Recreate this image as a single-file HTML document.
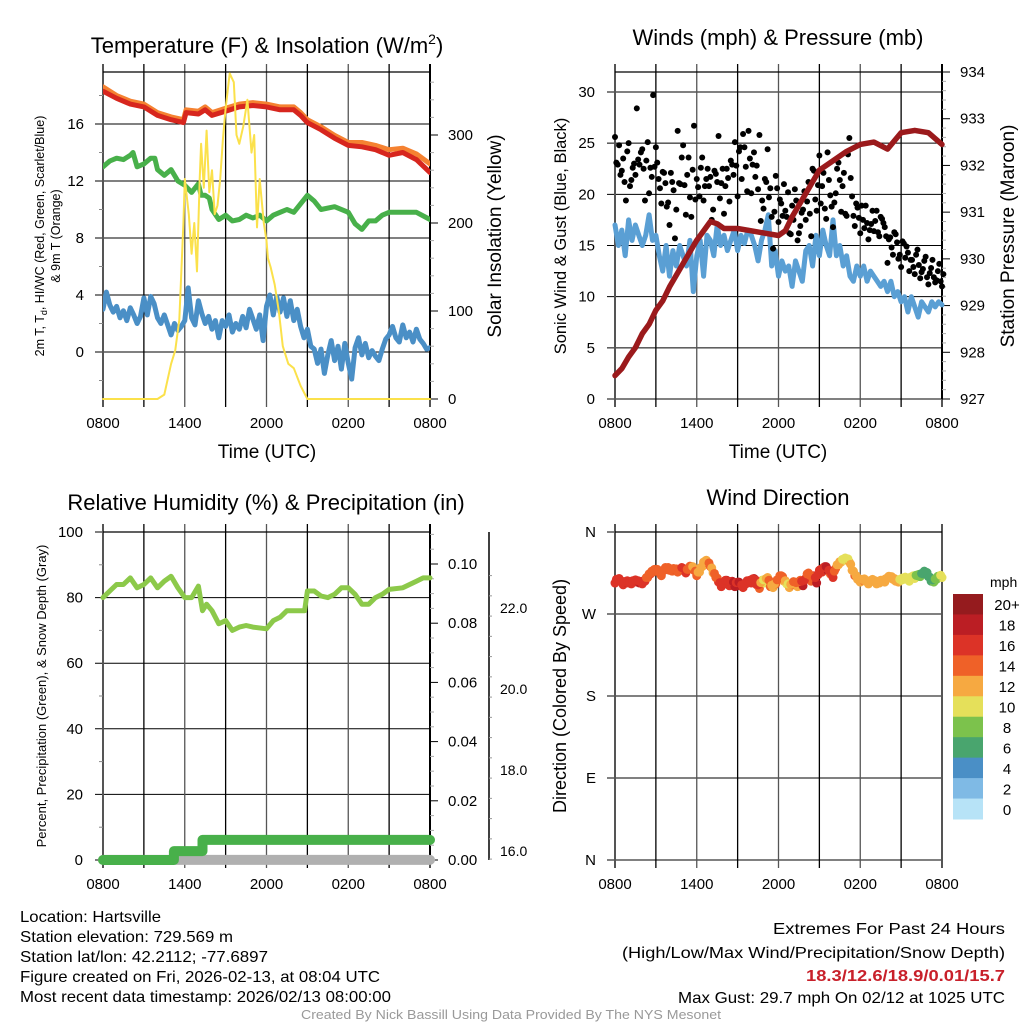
<!DOCTYPE html>
<html><head><meta charset="utf-8"><style>
html,body{margin:0;padding:0;background:#fff;}
svg{display:block;font-family:"Liberation Sans",sans-serif;}
</style></head><body>
<svg id="s" width="1024" height="1024" viewBox="0 0 1024 1024" xmlns="http://www.w3.org/2000/svg">
<rect width="1024" height="1024" fill="#fff"/>
<g id="p1"></g>
<g id="p2"></g>
<g id="p3"></g>
<g id="p4"></g>
<g font-size="16" fill="#000">
<text x="20" y="922" textLength="141" lengthAdjust="spacingAndGlyphs">Location: Hartsville</text>
<text x="20" y="942" textLength="213" lengthAdjust="spacingAndGlyphs">Station elevation: 729.569 m</text>
<text x="20" y="962" textLength="248" lengthAdjust="spacingAndGlyphs">Station lat/lon: 42.2112; -77.6897</text>
<text x="20" y="982" textLength="360" lengthAdjust="spacingAndGlyphs">Figure created on Fri, 2026-02-13, at 08:04 UTC</text>
<text x="20" y="1002" textLength="371" lengthAdjust="spacingAndGlyphs">Most recent data timestamp: 2026/02/13 08:00:00</text>
</g>
<g font-size="16">
<text x="773" y="934" textLength="232" lengthAdjust="spacingAndGlyphs">Extremes For Past 24 Hours</text>
<text x="622" y="958" textLength="383" lengthAdjust="spacingAndGlyphs">(High/Low/Max Wind/Precipitation/Snow Depth)</text>
<text x="806" y="981" textLength="199" lengthAdjust="spacingAndGlyphs" fill="#c8202a" font-weight="bold">18.3/12.6/18.9/0.01/15.7</text>
<text x="678" y="1003" textLength="327" lengthAdjust="spacingAndGlyphs">Max Gust: 29.7 mph On 02/12 at 1025 UTC</text>
</g>
<text x="301" y="1019" font-size="13" textLength="420" lengthAdjust="spacingAndGlyphs" fill="#999">Created By Nick Bassill Using Data Provided By The NYS Mesonet</text>
</svg>
<script>
// ---------- data ----------
const timeTicks = ["0800","1400","2000","0200","0800"];
const redT = [[0,18.3],[1,17.8],[2,17.4],[3,17.2],[4,16.6],[5,16.3],[5.9,16.1],[6.1,16.8],[7,16.7],[7.5,17.0],[8,16.6],[9,16.9],[10,17.2],[11,17.3],[12,17.2],[13,17.0],[14,17.0],[14.5,16.6],[15,16.1],[16,15.6],[17,15.0],[18,14.5],[19,14.4],[20,14.2],[21,13.8],[22,14.0],[23,13.5],[24,12.6]];
const orangeT = [[0,18.6],[1,18.0],[2,17.6],[3,17.4],[4,16.8],[5,16.5],[5.9,16.3],[6.1,17.0],[7,16.9],[7.5,17.2],[8,16.8],[9,17.1],[10,17.4],[11,17.5],[12,17.4],[13,17.2],[14,17.2],[14.5,16.8],[15,16.3],[16,15.8],[17,15.2],[18,14.7],[19,14.7],[20,14.5],[21,14.2],[22,14.3],[23,13.9],[24,13.2]];
const dewT = [[0,13.0],[0.5,13.4],[1,13.6],[1.5,13.5],[2,13.8],[2.2,14.0],[2.5,13.0],[3,13.2],[3.5,13.6],[3.8,13.6],[4,12.8],[4.5,12.4],[5,12.8],[5.5,12.0],[6,11.7],[6.5,11.2],[7,11.8],[7.2,11.0],[7.5,11.0],[7.8,10.8],[8,10.0],[8.5,9.3],[9,9.6],[9.5,9.2],[10,9.3],[10.5,9.6],[11,9.4],[11.5,9.6],[12,9.2],[12.5,9.6],[13,9.8],[13.5,10.0],[14,9.8],[15,11.0],[15.5,10.6],[16,10.0],[17,10.2],[18,9.8],[18.5,9.0],[19,8.6],[19.5,9.2],[20,9.2],[20.5,9.6],[21,9.8],[22,9.8],[23,9.8],[24,9.3]];
const wcStep = 0.25;
const wcVals = [3.0,4.2,3.3,2.8, 3.2,2.4,2.9,2.2, 3.1,2.6,2.0,2.5, 3.8,2.6,3.9,3.4, 2.4,2.0,2.6,1.9, 1.2,2.0,1.5,1.8, 2.2,4.5,2.4,1.9, 3.6,2.7,2.0,2.5, 1.6,2.2,1.0,2.2, 1.8,2.6,1.4,2.0, 1.6,2.5,1.7,3.0, 2.3,1.6,2.6,0.8, 3.2,4.0,2.6,3.9, 2.8,3.8,2.5,3.6, 2.2,3.0,1.8,1.0, 1.6,0.4,0.2,-0.8, 0.2,-1.5,-0.2,0.8, -0.6,0.4,-1.2,0.6, -0.8,-1.9,0.3,1.0, -0.2,0.6,-0.4,0.1, -0.3,-0.6,0.2,0.9, 1.2,1.8,1.0,0.7, 1.9,1.0,1.4,0.7, 1.6,0.9,0.6,0.2, 0.3];
const solar = [[0,0],[4,0],[4.5,5],[5,40],[5.3,55],[5.6,90],[5.9,200],[6.0,250],[6.3,210],[6.5,165],[6.7,200],[6.9,145],[7.1,250],[7.2,290],[7.4,240],[7.6,305],[7.8,235],[8,260],[8.2,210],[8.4,220],[8.6,250],[8.8,295],[9.0,330],[9.3,370],[9.6,360],[9.8,300],[10.0,290],[10.3,310],[10.6,340],[10.9,280],[11.1,300],[11.3,195],[11.5,250],[11.8,200],[12.0,180],[12.1,160],[12.3,150],[12.6,130],[12.9,100],[13.2,60],[13.6,40],[14,35],[14.5,15],[15,0],[24,0]];
const windStep = 0.25;
const windVals = [17,15,16.5,14, 17.5,15.5,17,16, 15,16,18,15.5, 16,14,12.5,15, 12,14.5,13,15, 14,13,15.5,10.5, 14,15.5,12,16, 15.5,14,17,15, 16,14.5,15.5,16.5, 14.5,16,15.2,16.5, 16,15,13.5,15.5, 16.5,18,13,14.5, 12,13.5,12.5,13, 11,13.5,12.5,11.5, 14.5,15,13,16, 14,16.5,15,14, 17.5,14,15,13, 14,12,11.5,13, 12,13,11.5,12.5, 12,11.5,11,11.5, 10.5,11.5,10,10.5, 9.5,10,8.5,10, 9,8,9.5,9, 8.5,9.5,9,9.5, 9.2];
const gustStep = 0.2;
const gustVals = [25.6,22.9,21.9,23.5,19.4,25,21.4,23,28.4,22.9, 24.4,19.4,25.1,22.6,29.7,24.6,21.5,19.1,22.1,18.8, 17,21.2,15.7,26.2,21,24.8,18,23.6,17.8,26.7, 21.5,19.8,23.6,20.8,22.5,21.7,18.5,22,25.7,21.1, 18.1,22.5,19.3,22.9,25.1,19.8,24.6,25.9,22.7,26.2, 20.1,24.1,22.8,25.8,19.4,21.5,24.4,20.6,14.7,21.8, 17.3,19.1,21,17.8,16.2,18.9,20.5,15.5,16.9,18.5, 17.5,21.2,15.9,22.3,18.4,23.8,20.8,18.6,24.1,19.9, 16.8,20.1,23.1,18.3,22.1,17.9,25.5,19.8,16.9,18.7, 16.2,17.5,18.9,15.6,17.1,16.4,18.4,15.9,17.6,16.8, 13.3,15.8,14.1,16.1,13.7,12.9,15.2,14.9,12.5,13.6, 12.2,14.6,11.8,12.7,13.9,11.2,12.8,11.9,11.6,13.2, 11];
const gust2Vals = [23.1,24.8,22.3,21.2,24.2,20.8,22.6,21.9,23.4,24.1, 22.5,23.3,20.1,21.7,22.7,23.1,20.6,22.2,21.1,19.2, 22.1,20.4,18.5,21.1,23.6,20.9,21.9,19.7,22.4,19.5, 20.7,22.6,19.4,21.5,20.8,17.5,22.3,21.2,19.6,22.5, 20.8,21.6,23.3,21.9,22.8,24.2,21.5,24.6,20.3,23.5, 22.9,21.7,20.5,17.4,18.6,21.2,19.7,17.8,18.3,20.6, 19.5,17.9,18.4,20.2,16.1,17.5,19.4,16.2,18.2,20.3, 19.3,18.1,22.5,19.5,20.9,19.1,22.1,17.6,21.4,18.8, 19.2,22.5,21.4,20.8,18.1,23.9,21.6,17.9,19.1,17.7, 18.9,16.7,17.2,16.5,18.4,17.4,16.3,17.8,17.2,15.9, 15.6,14.8,16.3,15.3,14.1,15.4,13.8,14.3,13.6,12.9, 14.1,13.1,12.4,13.5,11.9,12.3,13.6,11.4,12.5,11.5, 12.2];
const pressure = [[0,927.5],[0.5,927.65],[1,927.9],[1.5,928.1],[2,928.4],[2.5,928.6],[3,928.9],[3.5,929.1],[4,929.4],[4.5,929.65],[5,929.9],[5.5,930.15],[6,930.4],[7,930.8],[7.5,930.75],[8,930.65],[9,930.65],[10,930.6],[11,930.55],[12,930.5],[12.5,930.6],[13,930.9],[14,931.4],[15,931.9],[16,932.1],[17,932.3],[18,932.45],[19,932.5],[20,932.35],[21,932.7],[22,932.75],[23,932.7],[24,932.45]];
const rh = [[0,80],[0.5,82],[1,84],[1.5,84],[2,86],[2.5,83],[3,84],[3.5,86],[4,83],[4.5,85],[5,86.5],[5.5,83],[6,80],[6.5,80],[7,83.5],[7.3,76],[7.6,78],[8,76],[8.5,72],[9,73],[9.5,70],[10,71],[10.5,71.5],[11,71],[12,70.5],[12.5,73],[13,74],[13.5,76],[14,76],[14.8,76],[15,82],[15.5,82],[16,80.5],[16.5,80],[17,81],[17.5,83],[18,83],[18.5,81],[19,78],[19.5,78],[20,80],[20.5,81],[21,82.5],[22,83],[23,85],[23.5,86],[24,86]];
const precip = [[0,0],[5.2,0],[5.2,0.003],[7.3,0.003],[7.3,0.0068],[24,0.0068]];
const snow = [[0,15.7],[24,15.7]];
const dirStep = 0.2;
const dirVals = [304,308,306,302,305,304,303,306,305,304, 303,306,310,314,316,318,316,312,318,320, 318,317,319,316,318,320,315,319,322,318, 312,316,322,328,326,322,315,310,305,300, 303,307,301,306,300,305,301,299,303,306, 304,309,302,298,307,304,310,300,299,303, 308,312,306,303,299,302,305,300,307,301, 309,315,306,312,304,318,316,322,318,314, 310,320,324,327,329,330,327,318,312,308, 305,307,306,303,306,306,303,304,306,305, 309,310,308,306,305,307,308,309,306,311, 309,312,311,314,316,311,306,305,308,311, 310];
const spdVals = [17,18,16,17,18,16,17,16,17,18, 17,16,15,16,14,15,14,15,16,14, 15,14,16,15,15,17,16,15,13,14, 14,12,13,11,14,14,13,15,16,17, 17,18,16,19,18,17,19,16,17,18, 16,18,17,15,12,11,13,15,12,14, 14,15,13,11,12,14,15,13,15,18, 17,14,15,16,18,17,16,19,18,15, 17,14,13,12,11,11,12,13,14,12, 13,14,13,13,12,13,12,12,13,12, 12,13,12,13,12,11,10,11,10,10, 10,9,8,7,8,7,7,8,9,10, 11];
const cbLabels = ["20+","18","16","14","12","10","8","6","4","2","0"];
const cbColors = ["#951b1e","#bb1e24","#dc3327","#ef6128","#f6a941","#e5e05a","#7cc24c","#49a56e","#4a8fc6","#7fbae5","#b7e3f7"];

// ---------- helpers ----------
const NS="http://www.w3.org/2000/svg";
function mk(parent,tag,attrs,txt){const e=document.createElementNS(NS,tag);for(const k in attrs)e.setAttribute(k,attrs[k]);if(txt!==undefined)e.textContent=txt;parent.appendChild(e);return e;}
function scale(d0,d1,r0,r1){return v=>r0+(v-d0)/(d1-d0)*(r1-r0);}
function pathD(pts,xf,yf){return pts.map((p,i)=>(i?"L":"M")+xf(p[0]).toFixed(1)+" "+yf(p[1]).toFixed(1)).join(" ");}
function stepPts(vals,step){return vals.map((v,i)=>[i*step,v]);}
const L1=103,R1=430,L2=615,R2=942,T1=72,B1=399,T3=532,B3=860;

function frame(g,L,R,T,B,yTicks,yf,ylabels,lblOff){
  const x=scale(0,24,L,R);
  yTicks.forEach((v,i)=>{const y=yf(v);
    const ln=mk(g,"line",{x1:L-8,x2:R,y1:y,y2:y,stroke:"#000","stroke-width":1});
    
    
    const t=mk(g,"text",{x:L-(lblOff||19),y:y+5,"font-size":15,"text-anchor":"end"},ylabels[i]);
    
    
  });
  for(let h=0;h<=24;h+=3){const xx=x(h);
    const ln=mk(g,"line",{x1:xx,x2:xx,y1:T-8,y2:B+8,stroke:(h%6==3)?"#000":"#555","stroke-width":(h==0||h==24)?2:1.3});
    
    
  }
  timeTicks.forEach((lab,i)=>{
    const t=mk(g,"text",{x:x(i*6),y:B+29,"font-size":15,"text-anchor":"middle"},lab);
    
    
  });
  mk(g,"line",{x1:L,x2:R,y1:T,y2:T,stroke:"#000","stroke-width":1.3});
  return x;
}
function line(g,pts,xf,yf,color,w,name){
  const p=mk(g,"path",{d:pathD(pts,xf,yf),fill:"none",stroke:color,"stroke-width":w,"stroke-linejoin":"round","stroke-linecap":"round"});
  
  
  return p;
}
function rotText(g,x,y,size,txt,name){
  const t=mk(g,"text",{x:0,y:0,"font-size":size,"text-anchor":"middle",transform:`translate(${x},${y}) rotate(-90)`},txt);
  
  
  return t;
}

// ---------- panel 1 ----------
(function(){
  const g=document.getElementById("p1");
  const y=scale(0,16,352,124);
  const ys=scale(0,300,399,135);
  const clip=mk(g,"clipPath",{id:"c1"});mk(clip,"rect",{x:L1,y:T1,width:R1-L1,height:B1-T1});
  const x=frame(g,L1,R1,T1,B1,[0,4,8,12,16],y,["0","4","8","12","16"]);
  [-2,2,6,10,14,18].forEach(v=>mk(g,"line",{x1:L1-4,x2:L1,y1:y(v),y2:y(v),stroke:"#888"}));
  mk(g,"line",{x1:R1,x2:R1,y1:T1-8,y2:B1,stroke:"#000","stroke-width":2});
  for(let v=0;v<=360;v+=20){mk(g,"line",{x1:R1,x2:R1+(v%100==0?8:4),y1:ys(v),y2:ys(v),stroke:v%100==0?"#000":"#aaa"});}
  [0,100,200,300].forEach(v=>{const t=mk(g,"text",{x:R1+18,y:ys(v)+5,"font-size":15},String(v));
    
    });
  const d=mk(g,"g",{"clip-path":"url(#c1)"});
  line(d,stepPts(wcVals,wcStep),x,y,"#4a8fc6",5,"windchill-line");
  line(d,dewT,x,y,"#48b04a",5,"dewpoint-line");
  line(d,orangeT,x,y,"#f58231",5,"temp-9m-line");
  line(d,redT,x,y,"#d7261e",5,"temp-2m-line");
  line(g,solar,x,ys,"#fbe14b",2,"solar-line");
  const t=mk(g,"text",{x:267,y:53,"font-size":22,"text-anchor":"middle"});
  t.innerHTML='Temperature (F) &amp; Insolation (W/m<tspan dy="-9" font-size="14">2</tspan><tspan dy="9">)</tspan>';
  
  
  const xt=mk(g,"text",{x:267,y:458,"font-size":19,"text-anchor":"middle"},"Time (UTC)");
  
  
  const yl=mk(g,"text",{"font-size":12.5,"text-anchor":"middle",transform:"translate(44,236) rotate(-90)"});
  yl.innerHTML='2m T, T<tspan dy="3" font-size="9">d</tspan><tspan dy="-3">, HI/WC (Red, Green, Scarlet/Blue)</tspan>';
  
  
  rotText(g,60,236,12.5,"& 9m T (Orange)","y-axis-title-line2");
  rotText(g,501,236,19,"Solar Insolation (Yellow)","right-axis-title");
})();

// ---------- panel 2 ----------
(function(){
  const g=document.getElementById("p2");
  const y=scale(0,30,399,92);
  const yp=scale(927,934,399,72);
  const x=frame(g,L2,R2,T1,B1,[0,5,10,15,20,25,30],y,["0","5","10","15","20","25","30"],20);
  mk(g,"line",{x1:R2,x2:R2,y1:T1-8,y2:B1,stroke:"#000","stroke-width":2});
  for(let v=927;v<=934.001;v+=0.2){const major=Math.abs(v-Math.round(v))<0.01;mk(g,"line",{x1:R2,x2:R2+(major?8:4),y1:yp(v),y2:yp(v),stroke:major?"#000":"#aaa"});}
  for(let v=927;v<=934;v++){const t=mk(g,"text",{x:R2+18,y:yp(v)+5,"font-size":15},String(v));
    
    }
  line(g,stepPts(windVals,windStep),x,y,"#5a9fd4",5,"sonic-wind-line");
  gustVals.forEach((v,i)=>{const c=mk(g,"circle",{cx:x(i*gustStep),cy:y(v),r:3,fill:"#000"});
    
    });
  gust2Vals.forEach((v,i)=>{const c=mk(g,"circle",{cx:x(i*gustStep+0.1),cy:y(v),r:3,fill:"#000"});
    
    });
  line(g,pressure,x,yp,"#9b1a1c",5.5,"pressure-line");
  const t=mk(g,"text",{x:778,y:45,"font-size":22,"text-anchor":"middle"},"Winds (mph) & Pressure (mb)");
  
  
  const xt=mk(g,"text",{x:778,y:458,"font-size":19,"text-anchor":"middle"},"Time (UTC)");
  
  
  rotText(g,566,236,16.5,"Sonic Wind & Gust (Blue, Black)","y-axis-title");
  rotText(g,1014,236,19,"Station Pressure (Maroon)","right-axis-title");
})();

// ---------- panel 3 ----------
(function(){
  const g=document.getElementById("p3");
  const y=scale(0,100,B3,T3);
  const yp=scale(0,0.1,860,564);
  const ysn=scale(16,22,851,608);
  const x=frame(g,L1,R1,T3,B3,[0,20,40,60,80,100],y,["0","20","40","60","80","100"],20);
  [10,30,50,70,90].forEach(v=>mk(g,"line",{x1:L1-4,x2:L1,y1:y(v),y2:y(v),stroke:"#888"}));
  mk(g,"line",{x1:R1,x2:R1,y1:T3-8,y2:B3,stroke:"#000","stroke-width":2});
  for(let i=0;i<=22;i++){const v=i*0.005;const major=i%4==0;mk(g,"line",{x1:R1,x2:R1+(major?8:4),y1:yp(v),y2:yp(v),stroke:major?"#000":"#aaa"});}
  ["0.00","0.02","0.04","0.06","0.08","0.10"].forEach((s,i)=>{const t=mk(g,"text",{x:R1+18,y:yp(i*0.02)+5,"font-size":15},s);
    
    });
  mk(g,"line",{x1:489,x2:489,y1:T3,y2:B3,stroke:"#000","stroke-width":1.5});
  for(let v=15.8;v<=23.01;v+=0.5){const major=Math.abs(v-Math.round(v/2)*2)<0.01;mk(g,"line",{x1:489,x2:489+(major?6:3),y1:ysn(v),y2:ysn(v),stroke:major?"#000":"#999"});}
  ["16.0","18.0","20.0","22.0"].forEach((s,i)=>{const t=mk(g,"text",{x:500,y:ysn(16+2*i)+5,"font-size":14},s);
    
    });
  line(g,snow.map(p=>[p[0],Math.max(p[1],15.78)]),x,v=>Math.min(ysn(v),860),"#b0b0b0",10,"snow-depth-line");
  line(g,precip,x,yp,"#48b04a",10,"precip-line");
  line(g,rh,x,y,"#8cc94a",5,"rh-line");
  const t=mk(g,"text",{x:266,y:510,"font-size":22,"text-anchor":"middle"},"Relative Humidity (%) & Precipitation (in)");
  
  
  rotText(g,46,696,13,"Percent, Precipitation (Green), & Snow Depth (Gray)","y-axis-title");
})();

// ---------- panel 4 ----------
(function(){
  const g=document.getElementById("p4");
  const y=scale(0,360,B3,T3);
  const x=frame(g,L2,R2,T3,B3,[360,270,180,90,0],y,["N","W","S","E","N"],19);
  function col(s){let idx=Math.floor(s/2);if(idx>10)idx=10;return cbColors[10-idx];}
  dirVals.forEach((d,i)=>{const c=mk(g,"circle",{cx:x(i*dirStep),cy:y(d),r:4.5,fill:col(spdVals[i])});
    
    });
  dirVals.forEach((d,i)=>{if(i<dirVals.length-1){const c=mk(g,"circle",{cx:x(i*dirStep+0.1),cy:y((d+dirVals[i+1])/2+2),r:4.5,fill:col((spdVals[i]+spdVals[i+1])/2)});
    
    }});
  const cbT=594,cbH=(819-594)/11;
  const mph=mk(g,"text",{x:990,y:587,"font-size":14},"mph");
  
  
  cbColors.forEach((c,i)=>{const r=mk(g,"rect",{x:953,y:cbT+i*cbH,width:30,height:cbH+0.5,fill:c});
    
    
    const t=mk(g,"text",{x:1007,y:cbT+i*cbH+cbH/2+6,"font-size":15,"text-anchor":"middle"},cbLabels[i]);
    
    });
  const t=mk(g,"text",{x:778,y:505,"font-size":22,"text-anchor":"middle"},"Wind Direction");
  
  
  rotText(g,566,696,18,"Direction (Colored By Speed)","y-axis-title");
})();
</script>
</body></html>
